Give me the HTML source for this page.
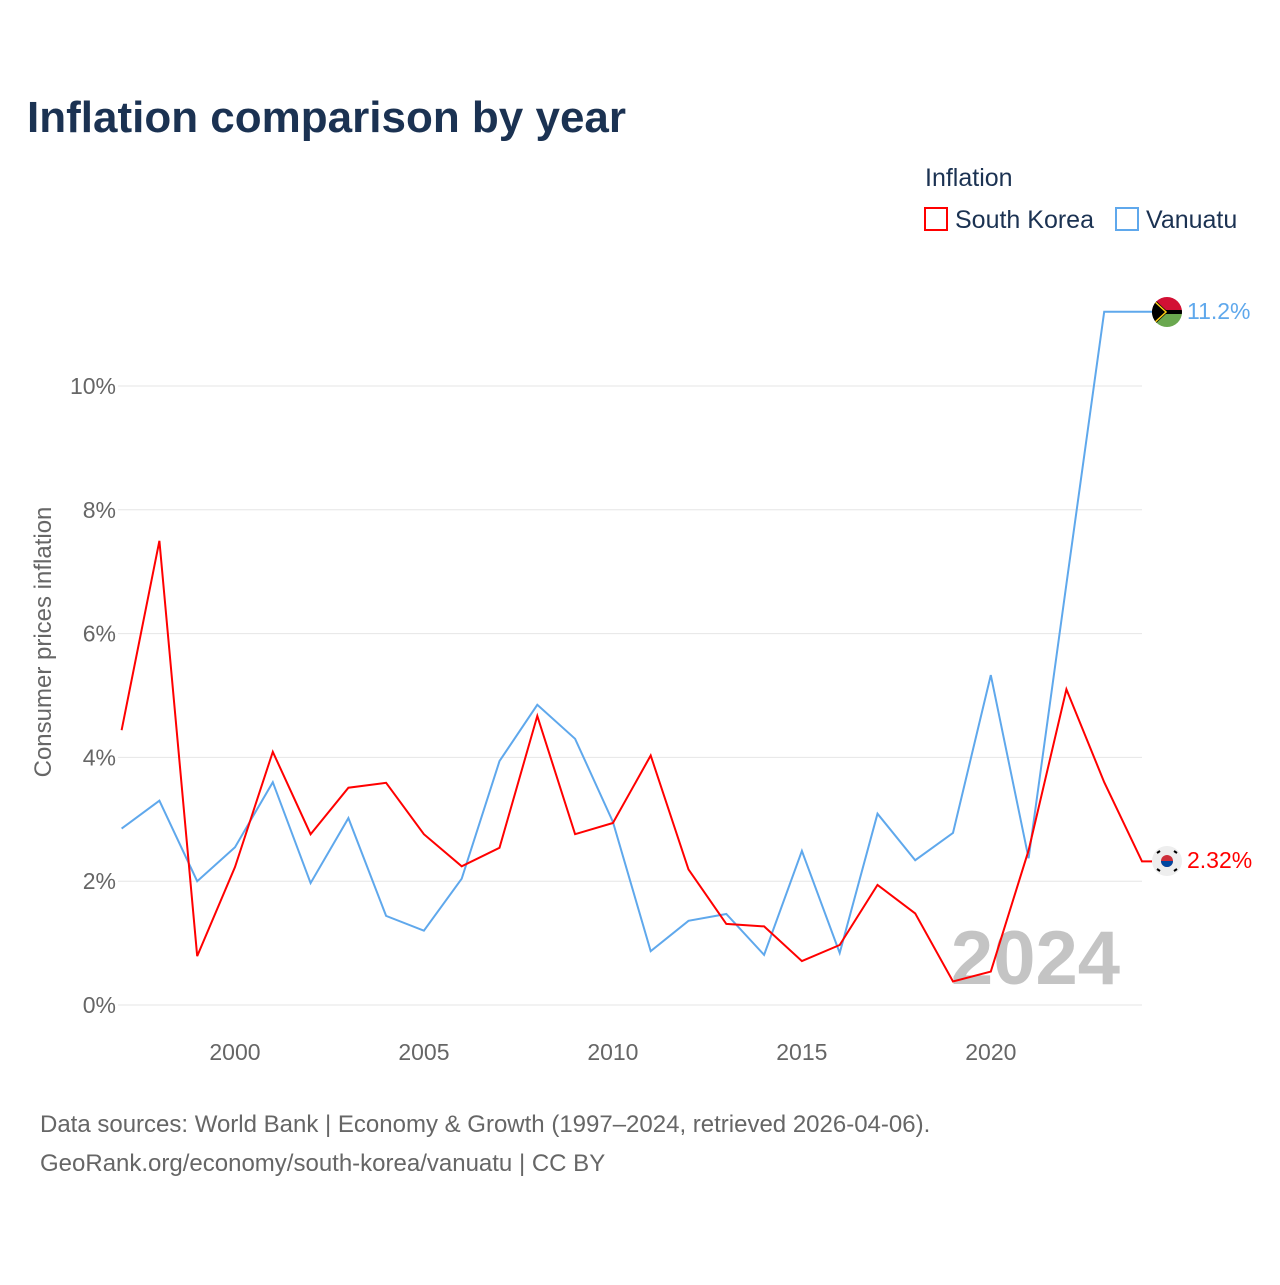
<!DOCTYPE html>
<html><head><meta charset="utf-8">
<style>
body{margin:0;background:#fff;font-family:"Liberation Sans",sans-serif;}
svg text{font-family:"Liberation Sans",sans-serif;}
</style></head>
<body>
<svg id="chart" width="1280" height="1280" viewBox="0 0 1280 1280">
<text x="27" y="132" font-size="44" font-weight="bold" fill="#1b3252">Inflation comparison by year</text>
<text x="925" y="186" font-size="25" fill="#1b3252">Inflation</text>
<g>
<rect x="925" y="208" width="22" height="22" fill="none" stroke="#ff0000" stroke-width="2"/>
<text x="955" y="228" font-size="25" fill="#1b3252">South Korea</text></g>
<g>
<rect x="1116" y="208" width="22" height="22" fill="none" stroke="#5fa8ec" stroke-width="2"/>
<text x="1146" y="228" font-size="25" fill="#1b3252">Vanuatu</text></g>
<g id="grid"></g>
<g id="xticks"></g>
<text transform="translate(51,642) rotate(-90)" text-anchor="middle" font-size="24" fill="#666">Consumer prices inflation</text>
<text x="1120" y="984" text-anchor="end" font-size="76" font-weight="bold" fill="#c4c4c4">2024</text>
<g id="series"></g>
<g>
<clipPath id="cv"><circle cx="1167" cy="312" r="15"/></clipPath>
<g clip-path="url(#cv)"><rect x="1152" y="297" width="30" height="15" fill="#d21034"/><rect x="1152" y="312" width="30" height="15" fill="#6aa84f"/><rect x="1152" y="310" width="30" height="4" fill="#000"/><path d="M1152 297 L1168 312 L1152 327 Z" fill="#000"/><path d="M1152 299 L1166 312 L1152 325" fill="none" stroke="#fdce12" stroke-width="1.5"/></g></g>
<text x="1187" y="319" font-size="23" fill="#5fa8ec">11.2%</text>
<g>
<circle cx="1167" cy="861" r="15" fill="#eee"/><circle cx="1167" cy="861" r="6" fill="#cd2e3a"/><path d="M1161 861 A6 6 0 0 0 1173 861 Z" fill="#0047a0"/>
<g stroke="#000" stroke-width="2"><line x1="1157" y1="853" x2="1160" y2="851"/><line x1="1174" y1="851" x2="1177" y2="853"/><line x1="1157" y1="869" x2="1160" y2="871"/><line x1="1174" y1="871" x2="1177" y2="869"/></g></g>
<text x="1187" y="868" font-size="23" fill="#ff0000">2.32%</text>
<text x="40" y="1132" font-size="24" fill="#666">Data sources: World Bank | Economy &amp; Growth (1997–2024, retrieved 2026-04-06).</text>
<text x="40" y="1171" font-size="24" fill="#666">GeoRank.org/economy/south-korea/vanuatu | CC BY</text>
</svg>
<script>
const years=[1997,1998,1999,2000,2001,2002,2003,2004,2005,2006,2007,2008,2009,2010,2011,2012,2013,2014,2015,2016,2017,2018,2019,2020,2021,2022,2023,2024];
const southKorea=[4.44,7.50,0.79,2.23,4.09,2.76,3.51,3.59,2.76,2.24,2.54,4.67,2.76,2.94,4.03,2.19,1.31,1.27,0.71,0.97,1.94,1.48,0.38,0.54,2.50,5.10,3.60,2.32];
const vanuatu=[2.85,3.30,2.00,2.55,3.60,1.97,3.02,1.44,1.20,2.04,3.94,4.85,4.30,2.96,0.87,1.36,1.47,0.81,2.49,0.84,3.09,2.34,2.78,5.33,2.37,6.80,11.2,11.2];
const yTicks=[0,2,4,6,8,10];
const xTicks=[2000,2005,2010,2015,2020];
const NS="http://www.w3.org/2000/svg";
function x(yr){return 121.6+(yr-1997)*(1142-121.6)/27;}
function y(v){return 1005-v*61.9;}
const grid=document.getElementById('grid');
yTicks.forEach(t=>{
 const l=document.createElementNS(NS,'line');
 l.setAttribute('x1',118);l.setAttribute('x2',1142);l.setAttribute('y1',y(t));l.setAttribute('y2',y(t));
 l.setAttribute('stroke','#e6e6e6');l.setAttribute('stroke-width','1');
 
 
 grid.appendChild(l);
 const tx=document.createElementNS(NS,'text');
 tx.setAttribute('x',116);tx.setAttribute('y',y(t)+8);tx.setAttribute('text-anchor','end');
 tx.setAttribute('font-size','23');tx.setAttribute('fill','#666');tx.textContent=t+'%';
 
 
 grid.appendChild(tx);
});
const xg=document.getElementById('xticks');
xTicks.forEach(t=>{
 const tx=document.createElementNS(NS,'text');
 tx.setAttribute('x',x(t));tx.setAttribute('y',1060);tx.setAttribute('text-anchor','middle');
 tx.setAttribute('font-size','23');tx.setAttribute('fill','#666');tx.textContent=t;
 
 
 xg.appendChild(tx);
});
const sg=document.getElementById('series');
function draw(vals,color,name,flagY){
 let d=vals.map((v,i)=>(i?'L':'M')+x(years[i]).toFixed(1)+' '+y(v).toFixed(1)).join(' ');
 d+=' L1152 '+y(vals[vals.length-1]).toFixed(1);
 const p=document.createElementNS(NS,'path');
 p.setAttribute('d',d);p.setAttribute('fill','none');p.setAttribute('stroke',color);p.setAttribute('stroke-width','2');
 p.setAttribute('stroke-linejoin','miter');
 
 
 sg.appendChild(p);
}
draw(vanuatu,'#5fa8ec','vanuatu-line');
draw(southKorea,'#ff0000','south-korea-line');
</script>
</body></html>
